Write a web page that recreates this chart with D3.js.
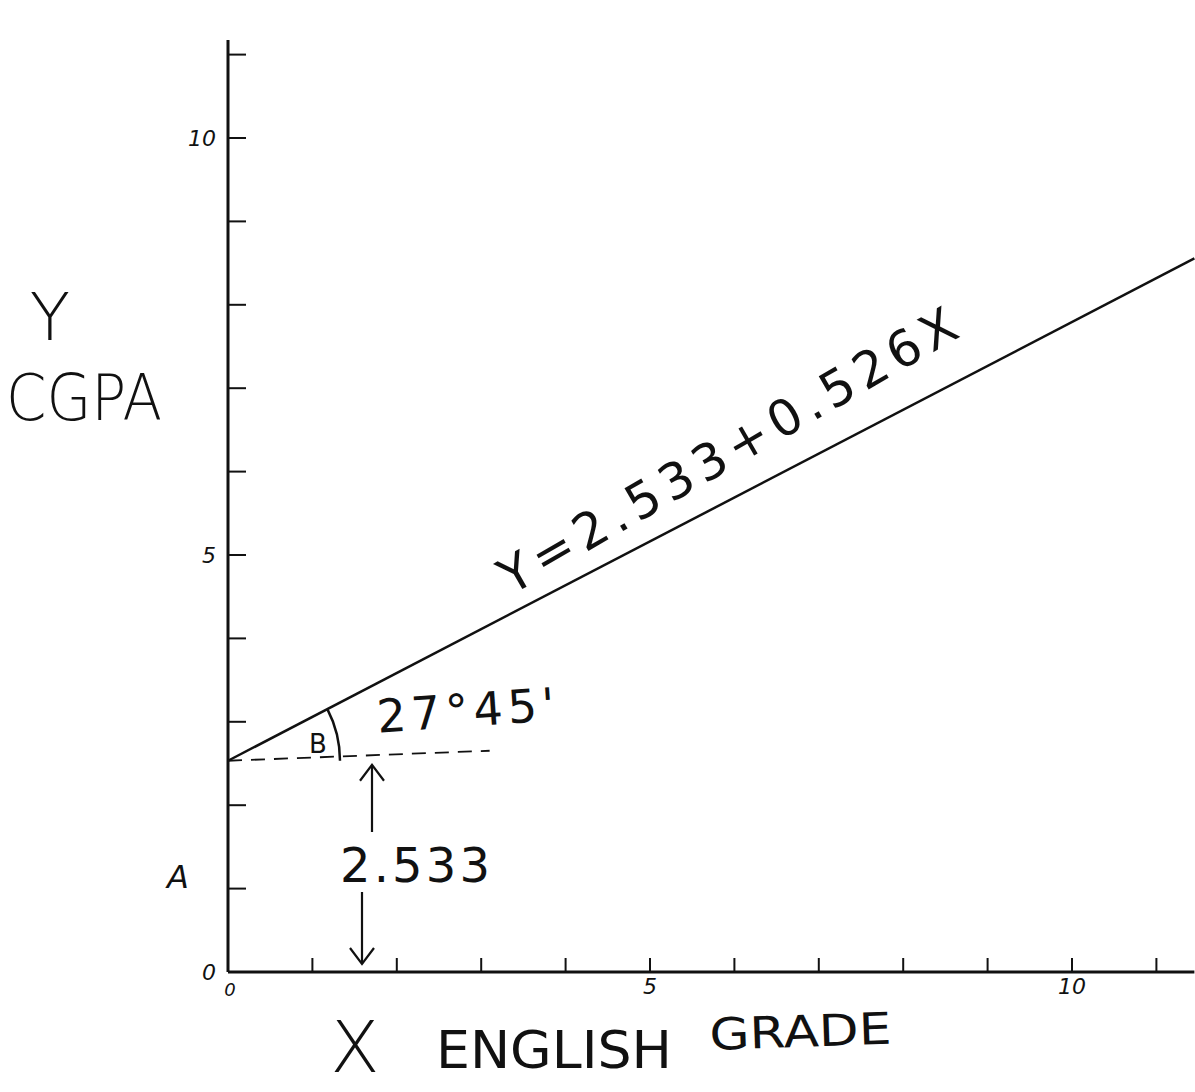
<!DOCTYPE html>
<html>
<head>
<meta charset="utf-8">
<script src="https://cdn.jsdelivr.net/npm/d3@7"></script>
<style>
  html, body { margin: 0; padding: 0; background: #fff; }
  svg { display: block; }
  text { font-family: "DejaVu Sans", sans-serif; fill: #111; }
</style>
</head>
<body>
<svg id="chart" width="1195" height="1092"></svg>
<script>
// Regression of CGPA on English grade
const intercept = 2.533;
const slope = 0.526;
const angleLabel = "27°45'";
const equationLabel = "Y=2.533+0.526X";
const interceptLabel = "2.533";

const xTickValues = [1, 2, 3, 4, 5, 6, 7, 8, 9, 10, 11];
const yTickValues = [1, 2, 3, 4, 5, 6, 7, 8, 9, 10, 11];
const xTickLabels = [5, 10];
const yTickLabels = [0, 5, 10];
const xMax = 11.45;

const svg = d3.select("#chart");
const ink = "#111";

const x = d3.scaleLinear().domain([0, 10]).range([228, 1072]);
const y = d3.scaleLinear().domain([0, 10]).range([972, 138]);

// y axis: line with ticks on the right side
svg.append("line")
  .attr("x1", x(0)).attr("x2", x(0))
  .attr("y1", 40).attr("y2", y(0))
  .attr("stroke", ink).attr("stroke-width", 3);

svg.selectAll(".ytick").data(yTickValues).join("line")
  .attr("class", "ytick")
  .attr("x1", x(0)).attr("x2", x(0) + 18)
  .attr("y1", d => y(d)).attr("y2", d => y(d))
  .attr("stroke", ink).attr("stroke-width", 2);

svg.selectAll(".ylab").data(yTickLabels).join("text")
  .attr("class", "ylab")
  .attr("x", x(0) - 12).attr("y", d => y(d) + 8)
  .attr("text-anchor", "end")
  .attr("font-size", 22).attr("font-style", "italic")
  .text(d => d);

// x axis: line with short ticks pointing up
svg.append("line")
  .attr("x1", x(0)).attr("x2", x(xMax))
  .attr("y1", y(0)).attr("y2", y(0))
  .attr("stroke", ink).attr("stroke-width", 3);

svg.selectAll(".xtick").data(xTickValues).join("line")
  .attr("class", "xtick")
  .attr("x1", d => x(d)).attr("x2", d => x(d))
  .attr("y1", y(0)).attr("y2", y(0) - 14)
  .attr("stroke", ink).attr("stroke-width", 2);

svg.selectAll(".xlab").data(xTickLabels).join("text")
  .attr("class", "xlab")
  .attr("x", d => x(d)).attr("y", y(0) + 22)
  .attr("text-anchor", "middle")
  .attr("font-size", 22).attr("font-style", "italic")
  .text(d => d);

svg.append("text")
  .attr("x", x(0) + 2).attr("y", y(0) + 24)
  .attr("text-anchor", "middle")
  .attr("font-size", 18).attr("font-style", "italic")
  .text("0");

// regression line
svg.append("line")
  .attr("x1", x(0)).attr("y1", y(intercept))
  .attr("x2", x(xMax)).attr("y2", y(intercept + slope * xMax))
  .attr("stroke", ink).attr("stroke-width", 2.5);

// equation written along the line
const eqX = 3.45;
const pxSlope = (y(intercept + slope) - y(intercept)) / (x(1) - x(0));
const eqAngle = Math.atan(pxSlope) * 180 / Math.PI - 2.5;
svg.append("text")
  .attr("transform", `translate(${x(eqX)},${y(intercept + slope * eqX)}) rotate(${eqAngle}) translate(0,-16)`)
  .attr("font-size", 50)
  .attr("textLength", 520).attr("lengthAdjust", "spacing")
  .text(equationLabel);

// dashed horizontal through the intercept
svg.append("line")
  .attr("x1", x(0)).attr("y1", y(intercept))
  .attr("x2", x(3.1)).attr("y2", y(intercept) - 10)
  .attr("stroke", ink).attr("stroke-width", 1.8)
  .attr("stroke-dasharray", "14,9");

// angle arc between the dashed horizontal and the line
const arcR = 112;
const lineAngle = Math.atan(-pxSlope);
const arc = d3.arc()
  .innerRadius(arcR).outerRadius(arcR)
  .startAngle(Math.PI / 2 - lineAngle).endAngle(Math.PI / 2);
svg.append("path")
  .attr("transform", `translate(${x(0)},${y(intercept)})`)
  .attr("d", arc())
  .attr("fill", "none").attr("stroke", ink).attr("stroke-width", 2.5);

svg.append("text")
  .attr("x", 318).attr("y", y(intercept) - 8)
  .attr("text-anchor", "middle")
  .attr("font-size", 26)
  .text("B");

svg.append("text")
  .attr("transform", `translate(378,${y(intercept) - 28}) rotate(-4)`)
  .attr("font-size", 46)
  .attr("textLength", 178).attr("lengthAdjust", "spacing")
  .text(angleLabel);

// intercept arrows and value
const arrowHead = (cx, cy, dir) =>
  `M${cx - 12},${cy + dir * 16} L${cx},${cy} L${cx + 12},${cy + dir * 16}`;

svg.append("line")
  .attr("x1", 372).attr("x2", 372)
  .attr("y1", y(intercept) + 4).attr("y2", 832)
  .attr("stroke", ink).attr("stroke-width", 2.2);
svg.append("path")
  .attr("d", arrowHead(372, y(intercept) + 4, 1))
  .attr("fill", "none").attr("stroke", ink).attr("stroke-width", 2.2);

svg.append("text")
  .attr("x", 340).attr("y", 882)
  .attr("font-size", 48)
  .attr("textLength", 150).attr("lengthAdjust", "spacing")
  .text(interceptLabel);

svg.append("line")
  .attr("x1", 362).attr("x2", 362)
  .attr("y1", 892).attr("y2", y(0) - 8)
  .attr("stroke", ink).attr("stroke-width", 2.2);
svg.append("path")
  .attr("d", arrowHead(362, y(0) - 8, -1))
  .attr("fill", "none").attr("stroke", ink).attr("stroke-width", 2.2);

svg.append("text")
  .attr("x", 178).attr("y", 888)
  .attr("text-anchor", "middle")
  .attr("font-size", 32).attr("font-style", "italic")
  .text("A");

// axis titles
svg.append("text")
  .attr("x", 50).attr("y", 340)
  .attr("text-anchor", "middle")
  .attr("font-size", 66).attr("font-weight", 300)
  .text("Y");
svg.append("text")
  .attr("x", 6).attr("y", 420)
  .attr("font-size", 64).attr("font-weight", 300)
  .attr("textLength", 156).attr("lengthAdjust", "spacingAndGlyphs")
  .text("CGPA");

svg.append("text")
  .attr("x", 355).attr("y", 1072)
  .attr("text-anchor", "middle")
  .attr("font-size", 72).attr("font-weight", 300)
  .text("X");
svg.append("text")
  .attr("x", 436).attr("y", 1068)
  .attr("font-size", 52)
  .attr("textLength", 236).attr("lengthAdjust", "spacingAndGlyphs")
  .text("ENGLISH");
svg.append("text")
  .attr("transform", "translate(710,1050) rotate(-2)")
  .attr("font-size", 44)
  .attr("textLength", 182).attr("lengthAdjust", "spacingAndGlyphs")
  .text("GRADE");
</script>
</body>
</html>
